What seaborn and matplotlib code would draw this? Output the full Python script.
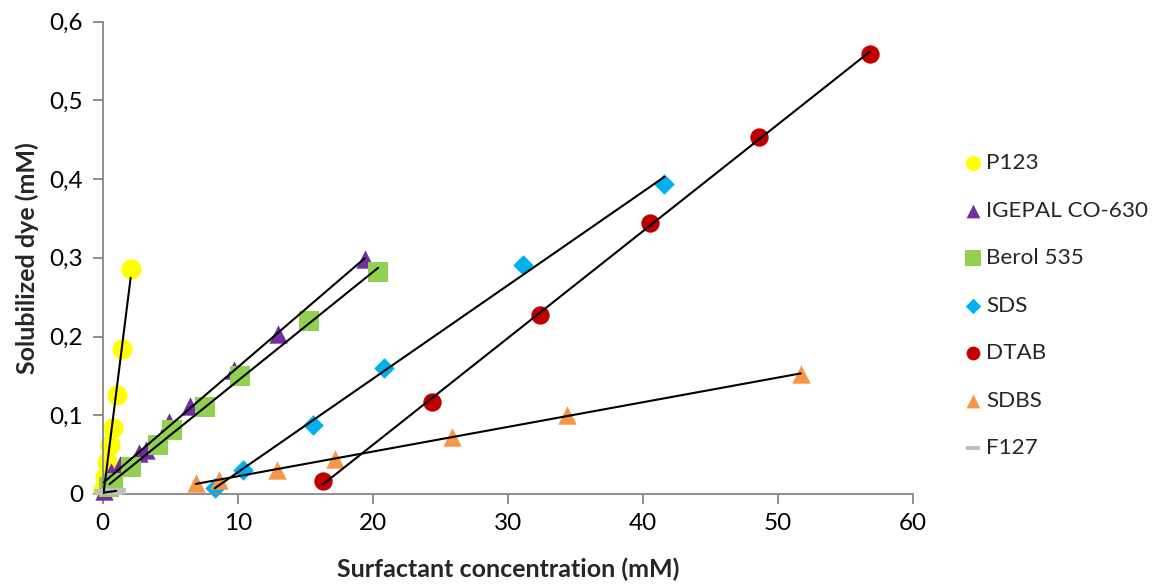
import matplotlib
matplotlib.use("Agg")
import matplotlib.pyplot as plt
import seaborn as sns
import numpy as np
import pandas as pd

# ---- data ----
series_names = ["P123", "IGEPAL CO-630", "Berol 535", "SDS", "DTAB", "SDBS", "F127"]

p123_x = [0.05, 0.17, 0.34, 0.54, 0.74, 1.08, 1.42, 2.07]
p123_y = [0.006, 0.022, 0.041, 0.062, 0.084, 0.126, 0.184, 0.286]

igepal_x = [0.1, 0.6, 1.3, 2.7, 3.2, 4.9, 6.5, 9.7, 13.0, 19.4]
igepal_y = [0.004, 0.028, 0.037, 0.052, 0.056, 0.092, 0.112, 0.158, 0.203, 0.298]

berol_x = [0.5, 0.8, 2.1, 4.1, 5.1, 7.6, 10.2, 15.3, 20.4]
berol_y = [0.009, 0.014, 0.034, 0.062, 0.081, 0.111, 0.150, 0.220, 0.282]

sds_x = [8.3, 10.4, 15.6, 20.8, 31.1, 41.6]
sds_y = [0.008, 0.030, 0.087, 0.160, 0.291, 0.394]

dtab_x = [16.3, 24.4, 32.4, 40.5, 48.6, 56.8]
dtab_y = [0.016, 0.117, 0.227, 0.344, 0.454, 0.559]

sdbs_x = [6.9, 8.6, 12.9, 17.2, 25.9, 34.4, 51.7]
sdbs_y = [0.014, 0.018, 0.031, 0.044, 0.072, 0.100, 0.153]

f127_x = [0.1, 0.3, 0.5, 0.7, 1.0]
f127_y = [0.002, 0.002, 0.003, 0.003, 0.004]

x_ticks = [0, 10, 20, 30, 40, 50, 60]
y_ticks = [0, 0.1, 0.2, 0.3, 0.4, 0.5, 0.6]
y_tick_labels = ["0", "0,1", "0,2", "0,3", "0,4", "0,5", "0,6"]

# ---- style ----
colors = ["#FFFF00", "#7030A0", "#92D050", "#00B0F0", "#C00000", "#F79646", "#BFBFBF"]
dash = [(-1, -0.32), (1, -0.32), (1, 0.32), (-1, 0.32)]
markers = ["o", "^", "s", "D", "o", "^", dash]
sizes = [210, 175, 210, 110, 175, 175, 200]

sns.set_theme(style="white")
plt.rcParams["font.family"] = ["Lato", "DejaVu Sans"]

fig = plt.figure(figsize=(11.59, 5.85), dpi=100)
ax = fig.add_axes([0.0886, 0.1556, 0.699, 0.8074])

xs = [p123_x, igepal_x, berol_x, sds_x, dtab_x, sdbs_x, f127_x]
ys = [p123_y, igepal_y, berol_y, sds_y, dtab_y, sdbs_y, f127_y]

for i, (name, x, y) in enumerate(zip(series_names, xs, ys)):
    df = pd.DataFrame({"x": x, "y": y})
    sns.scatterplot(data=df, x="x", y="y", ax=ax, color=colors[i], marker=markers[i],
                    s=sizes[i], linewidth=0, label=name, zorder=2 + i * 0.1, clip_on=False)

for i, (x, y) in enumerate(zip(xs, ys)):
    df = pd.DataFrame({"x": x, "y": y})
    sns.regplot(data=df, x="x", y="y", ax=ax, scatter=False, ci=None, truncate=True,
                line_kws={"color": "black", "lw": 1.5, "zorder": 5})

ax.set_xlim(0, 60)
ax.set_ylim(0, 0.6)
ax.set_xticks(x_ticks)
ax.set_xticklabels([str(t) for t in x_ticks])
ax.set_yticks(y_ticks)
ax.set_yticklabels(y_tick_labels)

for side in ["top", "right"]:
    ax.spines[side].set_visible(False)
for side in ["left", "bottom"]:
    ax.spines[side].set_color("#868686")
    ax.spines[side].set_linewidth(1.3)

ax.tick_params(axis="both", which="major", direction="out", length=7, width=1.3,
               color="#868686", labelsize=17.5, labelcolor="black", pad=7,
               bottom=True, left=True)

ax.set_xlabel("Surfactant concentration (mM)", fontsize=18, fontweight="bold", labelpad=17)
ax.set_ylabel("Solubilized dye (mM)", fontsize=18, fontweight="bold", labelpad=8)

handles, labels = ax.get_legend_handles_labels()
ax.legend(handles, labels, loc="upper left", bbox_to_anchor=(0.820, 0.757),
          bbox_transform=fig.transFigure, frameon=False, fontsize=16.2,
          labelspacing=1.22, handletextpad=0.1, markerscale=0.75, borderpad=0,
          handlelength=1.0)

fig.savefig("out.png", dpi=100)
